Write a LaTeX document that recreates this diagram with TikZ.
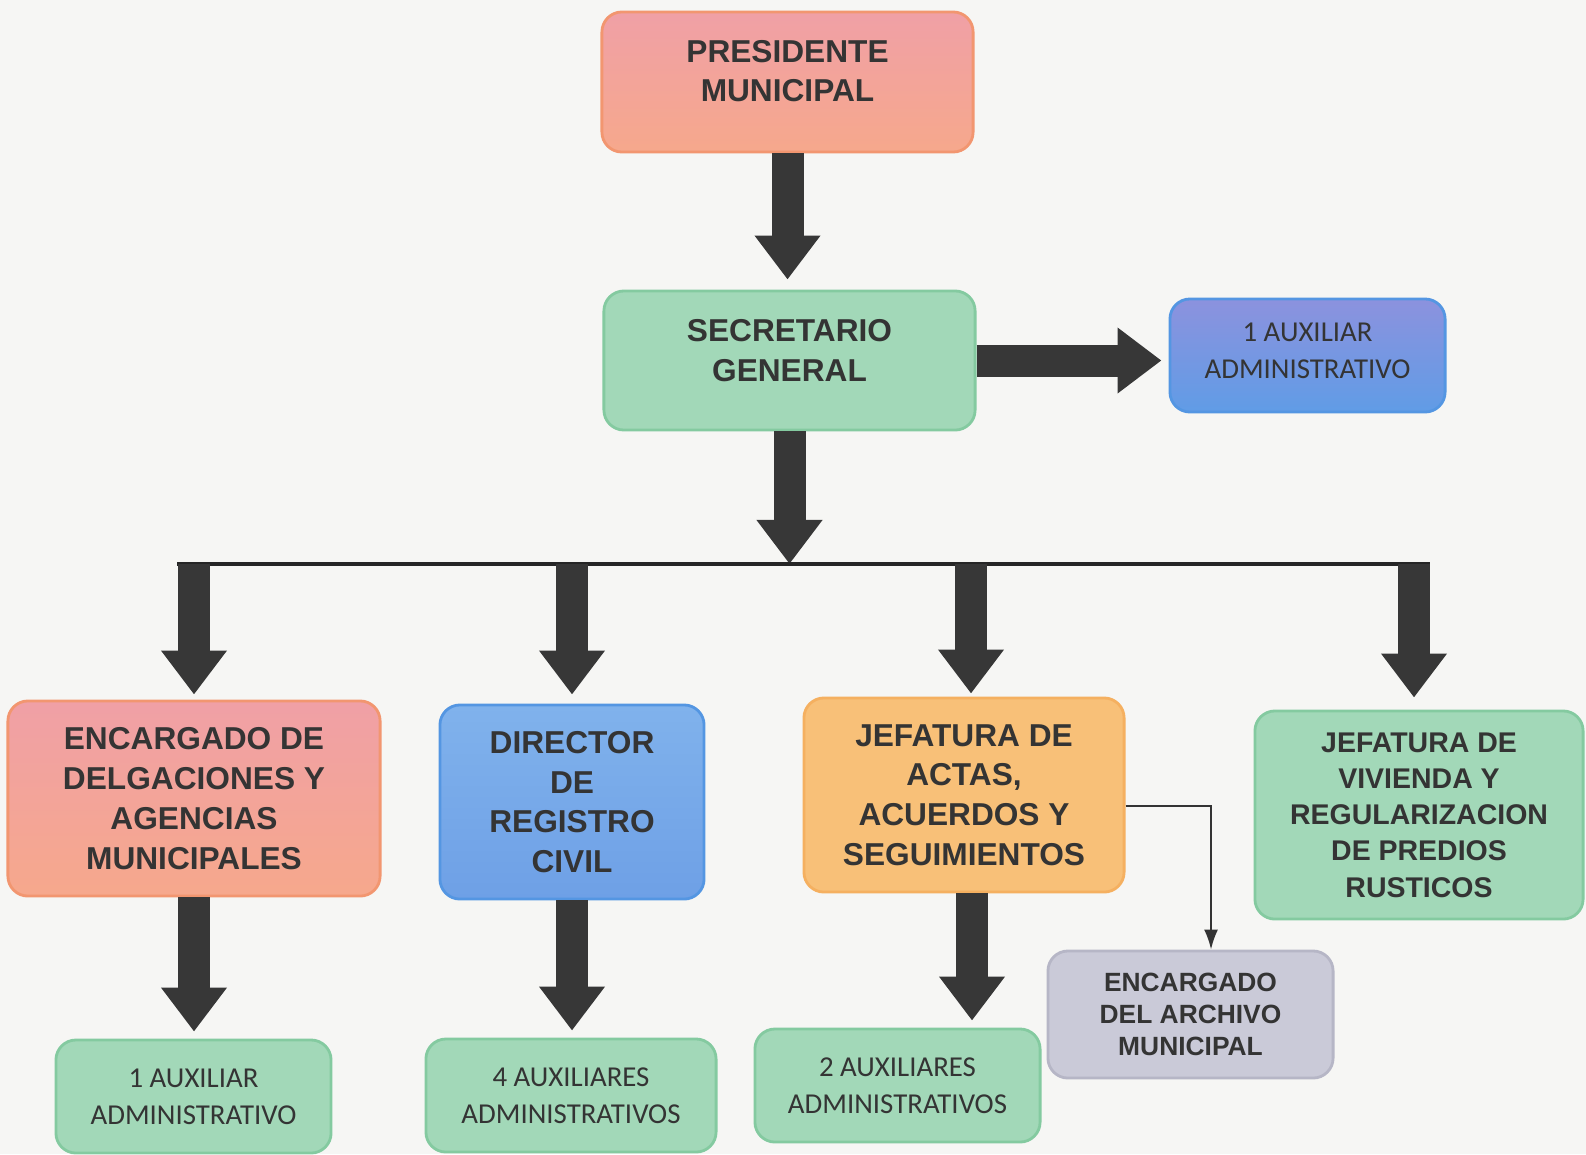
\documentclass[tikz,border=0pt]{standalone}
\usepackage{fontspec}
\setmainfont{Liberation Sans}
\newfontfamily\calibrifont{Carlito}
\usetikzlibrary{arrows.meta}
\definecolor{paper}{RGB}{246,246,244}
\definecolor{inkgray}{RGB}{52,52,52}
\definecolor{arrowgray}{RGB}{55,55,55}
\definecolor{pinktop}{RGB}{240,160,166}
\definecolor{pinkbot}{RGB}{246,168,140}
\definecolor{pinkfill}{RGB}{242,162,150}
\definecolor{pinkline}{RGB}{242,150,112}
\definecolor{greenfill}{RGB}{162,216,184}
\definecolor{greenline}{RGB}{132,202,160}
\definecolor{bluetop}{RGB}{140,146,222}
\definecolor{bluebot}{RGB}{96,156,230}
\definecolor{blueline}{RGB}{84,150,226}
\definecolor{skytop}{RGB}{128,178,236}
\definecolor{skybot}{RGB}{110,160,230}
\definecolor{orangefill}{RGB}{248,192,120}
\definecolor{orangeline}{RGB}{245,176,96}
\definecolor{grayfill}{RGB}{202,202,216}
\definecolor{grayline}{RGB}{182,182,198}
\tikzset{
  box/.style={draw, rounded corners=2mm, line width=0.8pt, align=center, inner sep=0pt, text=inkgray},
  bigbox/.style={box, font=\bfseries\fontsize{9}{11.3}\selectfont},
  smallbox/.style={box, font=\calibrifont\fontsize{8.2}{10.6}\selectfont},
  pinkbox/.style={top color=pinktop, bottom color=pinkbot, draw=pinkline},
  greenbox/.style={fill=greenfill, draw=greenline},
  bluebox/.style={top color=bluetop, bottom color=bluebot, draw=blueline},
  skybox/.style={top color=skytop, bottom color=skybot, draw=blueline},
  orangebox/.style={fill=orangefill, draw=orangeline},
  graybox/.style={fill=grayfill, draw=grayline},
  fatarrow/.style={draw=arrowgray, line width=3.2mm, -{Triangle[width=6.3mm,length=4.4mm]}},
  busline/.style={draw=black!85, line width=0.9pt},
  thinarrow/.style={draw=black!80, line width=0.6pt, -{Latex[length=2mm,width=1.4mm]}}
}
\begin{document}
\begin{tikzpicture}[x=0.01cm, y=-0.01cm]
\fill[paper] (0,0) rectangle (1586,1154);
\clip (0,0) rectangle (1586,1154);

\node[bigbox, pinkbox, text depth=0.22cm, minimum width=3.71cm, minimum height=1.40cm] (pres) at (787.5,82) {PRESIDENTE\\MUNICIPAL};
\node[bigbox, greenbox, text depth=0.2cm, minimum width=3.71cm, minimum height=1.39cm] (sec) at (789.5,360.5) {SECRETARIO\\GENERAL};
\node[smallbox, bluebox, text depth=0.1cm, minimum width=2.75cm, minimum height=1.13cm] (auxsec) at (1307.5,355.5) {1 AUXILIAR\\ADMINISTRATIVO};

\node[bigbox, pinkbox, minimum width=3.72cm, minimum height=1.95cm] (enc) at (194,798.5) {ENCARGADO DE\\DELGACIONES Y\\AGENCIAS\\MUNICIPALES};
\node[bigbox, skybox, minimum width=2.64cm, minimum height=1.94cm] (dir) at (572,802) {DIRECTOR\\DE\\REGISTRO\\CIVIL};
\node[bigbox, orangebox, minimum width=3.20cm, minimum height=1.94cm] (act) at (964,795) {JEFATURA DE\\ACTAS,\\ACUERDOS Y\\SEGUIMIENTOS};
\node[bigbox, greenbox, font=\bfseries\fontsize{8.1}{10.3}\selectfont, minimum width=3.28cm, minimum height=2.08cm] (viv) at (1419,815) {JEFATURA DE\\VIVIENDA Y\\REGULARIZACION\\DE PREDIOS\\RUSTICOS};

\node[bigbox, graybox, font=\bfseries\fontsize{7.5}{9.2}\selectfont, minimum width=2.85cm, minimum height=1.27cm] (arch) at (1190.5,1014.5) {ENCARGADO\\DEL ARCHIVO\\MUNICIPAL};
\node[smallbox, greenbox, minimum width=2.75cm, minimum height=1.13cm] (aux1) at (193.5,1096.5) {1 AUXILIAR\\ADMINISTRATIVO};
\node[smallbox, greenbox, minimum width=2.90cm, minimum height=1.13cm] (aux4) at (571,1095.5) {4 AUXILIARES\\ADMINISTRATIVOS};
\node[smallbox, greenbox, minimum width=2.85cm, minimum height=1.13cm] (aux2) at (897.5,1085.5) {2 AUXILIARES\\ADMINISTRATIVOS};

\coordinate (busL) at (177,564);
\coordinate (busR) at (1430,564);

\draw[fatarrow, shorten >=0.1cm] (pres.south) -- (pres.south |- sec.north);
\draw[fatarrow, shorten >=0.07cm] (sec.east) -- (sec.east -| auxsec.west);
\draw[fatarrow] (sec.south) -- (sec.south |- busL);
\draw[busline] (busL) -- (busR);
\foreach \n/\s/\dx in {enc/0.05/0,dir/0.09/0,act/0.03/0.07,viv/0.12/-0.05}
  \draw[fatarrow, shorten >=\s cm] ([xshift=\dx cm]\n.north |- busL) -- ([xshift=\dx cm]\n.north);
\foreach \a/\b/\dx in {enc/aux1/0,dir/aux4/0,act/aux2/0.08}
  \draw[fatarrow, shorten >=0.07cm] ([xshift=\dx cm]\a.south) -- ([xshift=\dx cm]\a.south |- \b.north);
\draw[thinarrow] ([yshift=-1.1mm]act.east) -| ([xshift=0.205cm]arch.north);
\end{tikzpicture}
\end{document}
